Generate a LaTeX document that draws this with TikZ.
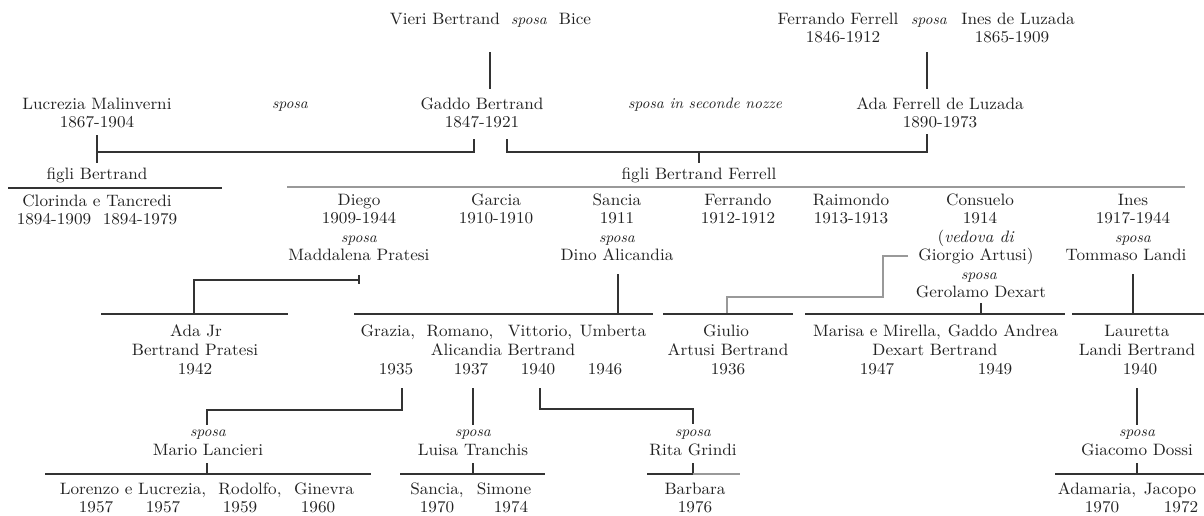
\documentclass[tikz,border=0pt]{standalone}
\usepackage{fontspec}
\setmainfont{lmroman10}[Extension=.otf, UprightFont=*-regular, ItalicFont=*-italic, BoldFont=*-bold, FakeStretch=1.04]
\usepackage{xcolor}
\definecolor{ink}{HTML}{222222}
\definecolor{lnc}{HTML}{333333}
\definecolor{lgc}{HTML}{999999}
\tikzset{
  txt/.style={anchor=base, inner sep=0pt, text=ink, font=\fontsize{16.5}{18}\selectfont},
  itx/.style={anchor=base, inner sep=0pt, text=ink, font=\fontsize{15}{18}\selectfont\itshape},
  link/.style={draw=lnc, line width=1.1pt},
  glink/.style={draw=lgc, line width=1.1pt},
}
\begin{document}
\begin{tikzpicture}[x=1pt,y=-1pt]
\useasboundingbox[fill=white] (0,0) rectangle (1204,515);
% ---- generation 0
\node[txt] (vieri) at (445,24) {Vieri Bertrand};
\node[itx] (sp1) at (529,24) {sposa};
\node[txt] (bice) at (575,24) {Bice};
\node[txt] (ferrF) at (838,24) {Ferrando Ferrell};
\node[txt] (ferrFy) at (843,42) {1846-1912};
\node[itx] (sp2) at (929,24) {sposa};
\node[txt] (inesL) at (1018,24) {Ines de Luzada};
\node[txt] (inesLy) at (1012,42) {1865-1909};
% ---- generation 1
\node[txt] (lucr) at (97,109) {Lucrezia Malinverni};
\node[txt] (lucry) at (97,127) {1867-1904};
\node[itx] (sp3) at (290,108) {sposa};
\node[txt] (gaddo) at (482,109) {Gaddo Bertrand};
\node[txt] (gaddoy) at (482,127) {1847-1921};
\node[itx] (sp4) at (705,108) {sposa in seconde nozze};
\node[txt] (ada) at (940,109) {Ada Ferrell de Luzada};
\node[txt] (aday) at (940,127) {1890-1973};
\node[txt] (figliB) at (97,179) {figli Bertrand};
\node[txt] (figliBF) at (699,179) {figli Bertrand Ferrell};
\node[txt] (clor) at (97,206) {Clorinda e Tancredi};
\node[txt] (clory1) at (54,224) {1894-1909};
\node[txt] (clory2) at (140,224) {1894-1979};
% ---- generation 2
\node[txt] (diego) at (359,205) {Diego};
\node[txt] (diegoy) at (359,223.5) {1909-1944};
\node[itx] (diegosp) at (359,242) {sposa};
\node[txt] (madd) at (359,260.5) {Maddalena Pratesi};
\node[txt] (garcia) at (496,205) {Garcia};
\node[txt] (garciay) at (496,223.5) {1910-1910};
\node[txt] (sancia) at (617,205) {Sancia};
\node[txt] (sanciay) at (617,223.5) {1911};
\node[itx] (sanciasp) at (617,242) {sposa};
\node[txt] (dino) at (617,260.5) {Dino Alicandia};
\node[txt] (ferr) at (738,205) {Ferrando};
\node[txt] (ferry) at (738,223.5) {1912-1912};
\node[txt] (raim) at (851,205) {Raimondo};
\node[txt] (raimy) at (851,223.5) {1913-1913};
\node[txt] (cons) at (980,205) {Consuelo};
\node[txt] (consy) at (980,223.5) {1914};
\node[txt] (vedova) at (976,242) {(\textit{vedova di}};
\node[txt] (giorgio) at (976,260.5) {Giorgio Artusi)};
\node[itx] (conssp) at (979,279) {sposa};
\node[txt] (gerol) at (981,297.5) {Gerolamo Dexart};
\node[txt] (ines) at (1133,205) {Ines};
\node[txt] (inesy) at (1133,223.5) {1917-1944};
\node[itx] (inessp) at (1133,242) {sposa};
\node[txt] (tommaso) at (1126,260.5) {Tommaso Landi};
% ---- generation 3
\node[txt] (adajr) at (196,336) {Ada Jr};
\node[txt] (adajr2) at (195,355) {Bertrand Pratesi};
\node[txt] (adajry) at (195,374) {1942};
\node[txt] (grazia) at (388,336) {Grazia,};
\node[txt] (romano) at (460,336) {Romano,};
\node[txt] (vitt) at (540,336) {Vittorio,};
\node[txt] (umb) at (613,336) {Umberta};
\node[txt] (alic) at (503,355) {Alicandia Bertrand};
\node[txt] (graziay) at (396,374) {1935};
\node[txt] (romanoy) at (471,374) {1937};
\node[txt] (vitty) at (538,374) {1940};
\node[txt] (umby) at (605,374) {1946};
\node[txt] (giulio) at (726,336) {Giulio};
\node[txt] (giulio2) at (728,355) {Artusi Bertrand};
\node[txt] (giulioy) at (728,374) {1936};
\node[txt] (marisa) at (877,336) {Marisa e Mirella,};
\node[txt] (gaddoA) at (1003,336) {Gaddo Andrea};
\node[txt] (dexart) at (935,355) {Dexart Bertrand};
\node[txt] (marisay) at (877,374) {1947};
\node[txt] (gaddoAy) at (995,374) {1949};
\node[txt] (laur) at (1137,336) {Lauretta};
\node[txt] (laur2) at (1137,355) {Landi Bertrand};
\node[txt] (laury) at (1140,374) {1940};
% ---- generation 4
\node[itx] (mariosp) at (208,436.5) {sposa};
\node[txt] (mario) at (208,455.5) {Mario Lancieri};
\node[itx] (luisasp) at (473,436.5) {sposa};
\node[txt] (luisa) at (473,455.5) {Luisa Tranchis};
\node[itx] (ritasp) at (693,436.5) {sposa};
\node[txt] (rita) at (693,455.5) {Rita Grindi};
\node[itx] (giacsp) at (1137,436.5) {sposa};
\node[txt] (giac) at (1137,455.5) {Giacomo Dossi};
% ---- generation 5
\node[txt] (lorenzo) at (133,494) {Lorenzo e Lucrezia,};
\node[txt] (rodolfo) at (250,494) {Rodolfo,};
\node[txt] (ginevra) at (324,494) {Ginevra};
\node[txt] (lory1) at (96,512) {1957};
\node[txt] (lory2) at (163,512) {1957};
\node[txt] (rody) at (240,512) {1959};
\node[txt] (giny) at (318,512) {1960};
\node[txt] (sancia2) at (437,494) {Sancia,};
\node[txt] (simone) at (504,494) {Simone};
\node[txt] (sancia2y) at (437,512) {1970};
\node[txt] (simoney) at (511,512) {1974};
\node[txt] (barbara) at (695,494) {Barbara};
\node[txt] (barbaray) at (695,512) {1976};
\node[txt] (adam) at (1097,494) {Adamaria,};
\node[txt] (jacopo) at (1170,494) {Jacopo};
\node[txt] (adamy) at (1102,512) {1970};
\node[txt] (jacopoy) at (1181,512) {1972};
% ---- connector points
\coordinate (vA) at (490,52);   \coordinate (vB) at (490,89);
\coordinate (fA) at (927,52);   \coordinate (fB) at (927,89);
\coordinate (lA) at (97,135);   \coordinate (lB) at (97,163);
\coordinate (gL) at (474,139);  \coordinate (gR) at (507,139);
\coordinate (aT) at (927,134);
\coordinate (bfA) at (699,152); \coordinate (bfB) at (699,163);
\coordinate (cl1) at (8,188);   \coordinate (cl2) at (222,188);
\coordinate (g21) at (287,187); \coordinate (g22) at (1185,187);
\coordinate (dA) at (359,275);  \coordinate (dB) at (359,284);
\coordinate (dC) at (194,314);
\coordinate (aj1) at (101,314); \coordinate (aj2) at (288,314);
\coordinate (sA) at (618,274);  \coordinate (sB) at (618,314);
\coordinate (al1) at (354,314); \coordinate (al2) at (653,314);
\coordinate (cA) at (908,256);  \coordinate (cB) at (883,297);
\coordinate (cC) at (727,314);
\coordinate (gi1) at (663,314); \coordinate (gi2) at (793,314);
\coordinate (deA) at (981,303); \coordinate (deB) at (981,314);
\coordinate (de1) at (805,314); \coordinate (de2) at (1065,314);
\coordinate (iA) at (1133,274); \coordinate (iB) at (1133,314);
\coordinate (la1) at (1072,314);\coordinate (la2) at (1204,314);
\coordinate (grA) at (402,388); \coordinate (grB) at (207,425);
\coordinate (mA) at (207,463);  \coordinate (mB) at (207,474);
\coordinate (m1) at (45,474);   \coordinate (m2) at (371,474);
\coordinate (roA) at (473,388); \coordinate (roB) at (473,425);
\coordinate (luA) at (473,463); \coordinate (luB) at (473,474);
\coordinate (lu1) at (400,474); \coordinate (lu2) at (545,474);
\coordinate (viA) at (540,388); \coordinate (viB) at (693,424);
\coordinate (riA) at (693,463); \coordinate (riB) at (693,474);
\coordinate (ri1) at (647,474); \coordinate (ri2) at (740,474);
\coordinate (laA) at (1137,388);\coordinate (laB) at (1137,425);
\coordinate (gdA) at (1137,463);\coordinate (gdB) at (1137,474);
\coordinate (gd1) at (1055,474);\coordinate (gd2) at (1204,474);
% ---- connectors
\draw[link] (vA) -- (vB);
\draw[link] (fA) -- (fB);
\draw[link] (lA) -- (lB);
\draw[link] (gL) |- (lA |- bfA);
\draw[link] (gR) |- (bfA) -| (aT);
\draw[link] (bfA) -- (bfB);
\draw[link] (cl1) -- (cl2);
\draw[glink] (g21) -- (g22);
\draw[link] (dA) -- (dB);
\draw[link] (dA |- 0,280) -| (dC);
\draw[link] (aj1) -- (aj2);
\draw[link] (sA) -- (sB);
\draw[link] (al1) -- (al2);
\draw[glink] (cA) -| (cB) -| (cC);
\draw[link] (gi1) -- (gi2);
\draw[link] (deA) -- (deB);
\draw[link] (de1) -- (de2);
\draw[link] (iA) -- (iB);
\draw[link] (la1) -- (la2);
\draw[link] (grA) |- (0,410 -| grB) -- (grB);
\draw[link] (mA) -- (mB);
\draw[link] (m1) -- (m2);
\draw[link] (roA) -- (roB);
\draw[link] (luA) -- (luB);
\draw[link] (lu1) -- (lu2);
\draw[link] (viA) |- (0,409 -| viB) -- (viB);
\draw[link] (riA) -- (riB);
\draw[link] (ri1) -- (riB);
\draw[glink] (riB) -- (ri2);
\draw[link] (laA) -- (laB);
\draw[link] (gdA) -- (gdB);
\draw[link] (gd1) -- (gd2);
\end{tikzpicture}
\end{document}
